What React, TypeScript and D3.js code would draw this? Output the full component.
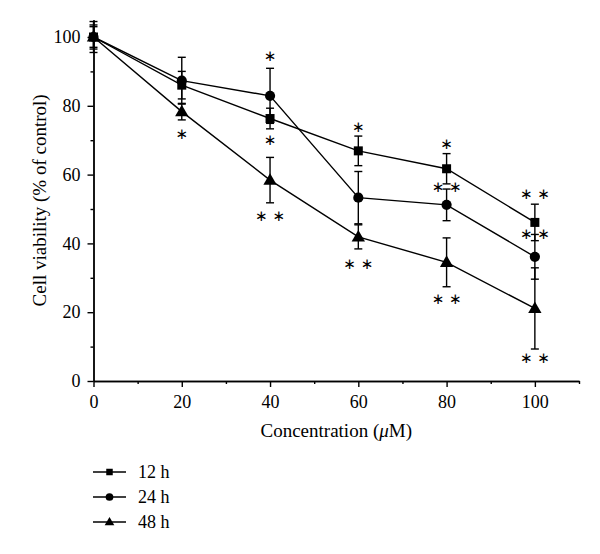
import React, { useEffect, useRef } from 'react';
import * as d3 from 'd3';

// concentration (uM) on x, viability (% of control) on y
const concentrations = [0, 20, 40, 60, 80, 100];
const seriesNames = ['12 h', '24 h', '48 h'];
const values12 = [100, 86, 76.3, 66.9, 61.7, 46.1];
const errors12 = [3, 4, 3, 4.3, 4.4, 5.3];
const values24 = [100, 87.3, 82.9, 53.3, 51.2, 36.1];
const errors24 = [4.5, 6.8, 8, 7.6, 4.6, 6.5];
const values48 = [100, 78.3, 58.4, 41.9, 34.5, 21.1];
const errors48 = [3.5, 2.4, 6.6, 3.5, 7.1, 11.8];

// significance marks: [concentration, viability level, label]
const starMarks: [number, number, string][] = [
  [20, 72, '∗'],
  [40, 94.5, '∗'],
  [40, 70, '∗'],
  [40, 48, '∗ ∗'],
  [60, 74, '∗'],
  [60, 34, '∗ ∗'],
  [80, 69, '∗'],
  [80, 56.5, '∗ ∗'],
  [80, 24, '∗ ∗'],
  [100, 54.3, '∗ ∗'],
  [100, 42.7, '∗ ∗'],
  [100, 6.8, '∗ ∗'],
];

const xMajor = [0, 20, 40, 60, 80, 100];
const xMinor = [10, 30, 50, 70, 90, 110];
const yMajor = [0, 20, 40, 60, 80, 100];
const yMinor = [10, 30, 50, 70, 90];

const FONT = 'Liberation Serif, serif';

const App: React.FC = () => {
  const xAxisRef = useRef<SVGGElement>(null);
  const yAxisRef = useRef<SVGGElement>(null);

  const width = 600;
  const height = 554;
  const x = d3.scaleLinear().domain([0, 110]).range([93.5, 579]);
  const y = d3.scaleLinear().domain([0, 105]).range([381, 19.8]);

  const series = [
    { name: seriesNames[0], values: values12, errors: errors12, shape: 'square' },
    { name: seriesNames[1], values: values24, errors: errors24, shape: 'circle' },
    { name: seriesNames[2], values: values48, errors: errors48, shape: 'triangle' },
  ];

  useEffect(() => {
    const gx = d3.select(xAxisRef.current!);
    gx.selectAll('*').remove();
    gx.append('g').call(d3.axisBottom(x).tickValues(xMajor).tickSize(6).tickSizeOuter(0).tickPadding(8));
    gx.append('g').call(d3.axisBottom(x).tickValues(xMinor).tickSize(3).tickSizeOuter(0).tickFormat(() => ''));
    gx.selectAll('path, line').attr('stroke', '#000').attr('stroke-width', 1.4);
    gx.selectAll('text').attr('font-family', FONT).attr('font-size', 18).attr('fill', '#000');

    const gy = d3.select(yAxisRef.current!);
    gy.selectAll('*').remove();
    gy.append('g').call(d3.axisLeft(y).tickValues(yMajor).tickSize(6).tickSizeOuter(0).tickPadding(7));
    gy.append('g').call(d3.axisLeft(y).tickValues(yMinor).tickSize(3).tickSizeOuter(0).tickFormat(() => ''));
    gy.selectAll('path, line').attr('stroke', '#000').attr('stroke-width', 1.4);
    gy.selectAll('text').attr('font-family', FONT).attr('font-size', 18).attr('fill', '#000');
  }, []);

  const line = d3.line<number>()
    .x((_, i) => x(concentrations[i]))
    .y(d => y(d));

  const marker = (shape: string, cx: number, cy: number, s: number, key?: string) => {
    if (shape === 'square') {
      return <rect key={key} x={cx - s / 2} y={cy - s / 2} width={s} height={s} fill="#000" />;
    }
    if (shape === 'circle') {
      return <circle key={key} cx={cx} cy={cy} r={s / 2 + 0.6} fill="#000" />;
    }
    const sym = d3.symbol(d3.symbolTriangle, s * s * 0.95)();
    return <path key={key} d={sym || ''} transform={`translate(${cx},${cy + s * 0.08})`} fill="#000" />;
  };

  return (
    <svg width={width} height={height} style={{ position: 'absolute', left: 0, top: 0, background: '#fff' }}>
      <g ref={xAxisRef} transform={`translate(0,${y(0)})`} />
      <g ref={yAxisRef} transform={`translate(${x(0)},0)`} />

      {/* error bars */}
      {series.map(s => (
        <g key={`err-${s.name}`} stroke="#000" strokeWidth={1.4}>
          {s.values.map((v, i) => {
            const cx = x(concentrations[i]);
            const top = y(v + s.errors[i]);
            const bot = y(v - s.errors[i]);
            return (
              <g key={i}>
                <line x1={cx} x2={cx} y1={top} y2={bot} />
                <line x1={cx - 4} x2={cx + 4} y1={top} y2={top} />
                <line x1={cx - 4} x2={cx + 4} y1={bot} y2={bot} />
              </g>
            );
          })}
        </g>
      ))}

      {/* lines and markers */}
      {series.map(s => (
        <g key={`ser-${s.name}`}>
          <path d={line(s.values) || ''} fill="none" stroke="#000" strokeWidth={1.4} />
          {s.values.map((v, i) => marker(s.shape, x(concentrations[i]), y(v), 9, `m${i}`))}
        </g>
      ))}

      {/* significance */}
      {starMarks.map(([c, v, t], i) => (
        <text key={`st${i}`} x={x(c)} y={y(v)} dy="0.35em" textAnchor="middle"
          fontFamily="DejaVu Sans, sans-serif" fontSize={15} fill="#000">{t}</text>
      ))}

      {/* axis titles */}
      <text x={(x(0) + x(110)) / 2} y={437} textAnchor="middle" fontFamily={FONT} fontSize={19} fill="#000">
        Concentration (<tspan fontStyle="italic">μ</tspan>M)
      </text>
      <text transform={`translate(46,${(y(0) + y(105)) / 2}) rotate(-90)`} textAnchor="middle"
        fontFamily={FONT} fontSize={19} fill="#000">
        Cell viability (% of control)
      </text>

      {/* legend */}
      {series.map((s, i) => {
        const ly = 472 + i * 25;
        return (
          <g key={`leg-${s.name}`}>
            <line x1={93} x2={126} y1={ly} y2={ly} stroke="#000" strokeWidth={1.4} />
            {marker(s.shape, 109.5, ly, 6.5)}
            <text x={138} y={ly} dy="0.35em" fontFamily={FONT} fontSize={18} fill="#000">{s.name}</text>
          </g>
        );
      })}
    </svg>
  );
};

export default App;
